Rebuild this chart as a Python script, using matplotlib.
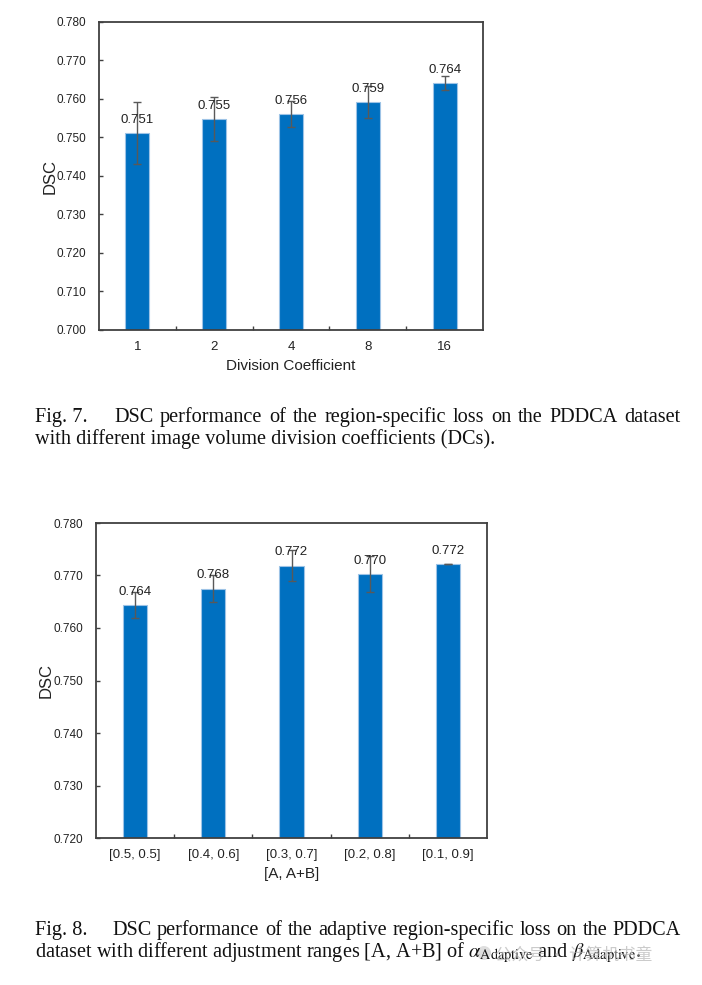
import matplotlib
matplotlib.use("Agg")
import matplotlib.pyplot as plt
from matplotlib.patches import Ellipse

# Figure 7 data
dc_labels = ["1", "2", "4", "8", "16"]
dc_dsc = [0.7512, 0.7547, 0.7560, 0.7592, 0.7642]
dc_err = [0.0081, 0.0057, 0.0034, 0.0042, 0.0019]
dc_text = ["0.751", "0.755", "0.756", "0.759", "0.764"]

# Figure 8 data
rng_labels = ["[0.5, 0.5]", "[0.4, 0.6]", "[0.3, 0.7]", "[0.2, 0.8]", "[0.1, 0.9]"]
rng_dsc = [0.7644, 0.7675, 0.7719, 0.7703, 0.7722]
rng_err = [0.0025, 0.0026, 0.0030, 0.0035, 0.0]
rng_text = ["0.764", "0.768", "0.772", "0.770", "0.772"]

W, H = 702, 985
SANS = ["Liberation Sans", "DejaVu Sans"]
SERIF = ["Liberation Serif", "DejaVu Serif"]
BLUE = "#0070C0"
EDGE = "#9DC3E6"
AXC = "#404040"
ERRC = "#595959"

plt.rcParams["font.family"] = SANS
plt.rcParams["mathtext.fontset"] = "stix"

fig = plt.figure(figsize=(W / 100, H / 100), dpi=100)
fig.patch.set_facecolor("white")


def px_axes(left, top, right, bottom):
    return fig.add_axes([left / W, 1 - bottom / H, (right - left) / W, (bottom - top) / H])


def bar_panel(ax, labels, vals, errs, texts, ymin, ymax, xlabel, ylab_x):
    x = list(range(len(labels)))
    ax.bar(x, vals, width=0.31, color=BLUE, edgecolor=EDGE, linewidth=0.8, zorder=2)
    ax.errorbar(x, vals, yerr=errs, fmt="none", ecolor=ERRC, elinewidth=1.0,
                capsize=3, capthick=1.0, zorder=3)
    for xi, v, t in zip(x, vals, texts):
        ax.annotate(t, (xi, v), xytext=(0, 9.5), textcoords="offset points",
                    ha="center", va="center", fontsize=9.5, color="#222222", zorder=4)
    ax.set_xlim(-0.5, len(labels) - 0.5)
    ax.set_ylim(ymin, ymax)
    ticks = [round(ymin + 0.01 * i, 3) for i in range(int(round((ymax - ymin) / 0.01)) + 1)]
    ax.set_yticks(ticks)
    ax.set_yticklabels([f"{t:.3f}" for t in ticks], fontsize=8.5, color="#222222")
    ax.set_xticks(x)
    ax.set_xticklabels(labels, fontsize=9.5, color="#222222")
    ax.set_xticks([i + 0.5 for i in x[:-1]], minor=True)
    ax.tick_params(axis="x", which="major", length=0, pad=8)
    ax.tick_params(axis="x", which="minor", direction="in", length=3, color=AXC, width=1)
    ax.tick_params(axis="y", direction="in", length=3, color=AXC, width=1, pad=9)
    for s in ax.spines.values():
        s.set_color(AXC)
        s.set_linewidth(1.3)
    ax.set_xlabel(xlabel, fontsize=11, color="#222222", labelpad=4)
    ax.set_ylabel("DSC", fontsize=12, color="#222222", va="center")
    ax.yaxis.set_label_coords(ylab_x, 0.5)


ax1 = px_axes(99, 22, 483, 330)
bar_panel(ax1, dc_labels, dc_dsc, dc_err, dc_text, 0.700, 0.780, "Division Coefficient",
          (50 - 99) / 384)

ax2 = px_axes(96, 523, 487, 838)
bar_panel(ax2, rng_labels, rng_dsc, rng_err, rng_text, 0.720, 0.780, "[A, A+B]",
          (46 - 96) / 391)

# captions
renderer = fig.canvas.get_renderer()
CAP = 14.6


def put(x, y, s, **kw):
    return fig.text(x / W, 1 - y / H, s, ha="left", va="baseline",
                    family=SERIF, fontsize=CAP, color="#111111", **kw)


def justified(x0, x1, y, line):
    words = line.split(" ")
    ts = [put(0, y, w) for w in words]
    widths = [t.get_window_extent(renderer).width for t in ts]
    gap = (x1 - x0 - sum(widths)) / (len(words) - 1)
    cur = x0
    for t, w in zip(ts, widths):
        t.set_x(cur / W)
        cur += w + gap


put(35, 422, "Fig. 7.")
justified(114, 681, 422, "DSC performance of the region-specific loss on the PDDCA dataset")
put(35, 444, "with different image volume division coefficients (DCs).")

put(35, 935, "Fig. 8.")
justified(112, 681, 935, "DSC performance of the adaptive region-specific loss on the PDDCA")
put(35, 957, r"dataset with different adjustment ranges [A, A+B] of "
    r"$\alpha_{\mathrm{Adaptive}}$ and $\beta_{\mathrm{Adaptive}}$.")

# watermark
fig.add_artist(Ellipse((484 / W, 1 - 953 / H), 14 / W, 14 / H, transform=fig.transFigure,
                       facecolor="#c8c8c8", alpha=0.6, edgecolor="none"))
fig.text(495 / W, 1 - 959 / H, "公众号 · 计算机书童", ha="left", va="baseline",
         family=["Noto Sans CJK SC", "DejaVu Sans"], fontsize=12, color="#b5b5b5", alpha=0.7)

fig.savefig("out.png", dpi=100, facecolor="white")
